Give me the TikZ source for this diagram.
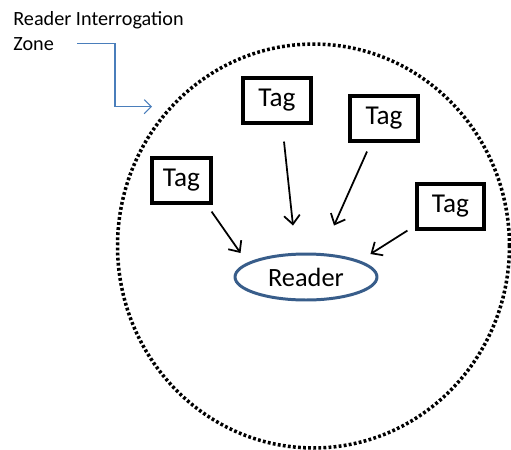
\documentclass[tikz,border=0pt]{standalone}
\usepackage{fontspec}
\setmainfont{Carlito}
\usetikzlibrary{arrows.meta, shapes.geometric, calc}

\definecolor{readerblue}{RGB}{56,93,138}
\definecolor{leadblue}{RGB}{74,126,187}

\begin{document}
\begin{tikzpicture}[x=0.02cm, y=-0.02cm,
    tagbox/.style={draw, line width=1.8pt, minimum height=0.9cm,
                   minimum width=1.36cm, inner sep=0pt,
                   font=\fontsize{15.5}{18}\selectfont},
    reader/.style={ellipse, draw=readerblue, line width=1.7pt,
                   minimum width=2.84cm, minimum height=0.92cm,
                   inner sep=0pt, font=\fontsize{15}{17}\selectfont},
    zone/.style={ellipse, draw, line width=2pt, dash pattern=on 1.6pt off 1.3pt,
                 minimum width=7.84cm, minimum height=8.08cm, inner sep=0pt},
    flow/.style={-{Straight Barb[length=5pt, width=9pt]}, line width=1pt},
    lead/.style={-{Straight Barb[length=4pt, width=8pt]}, draw=leadblue, line width=0.6pt},
    note/.style={font=\fontsize{11.5}{14.2}\selectfont, align=left, inner sep=0pt},
]
    \useasboundingbox (0,0) rectangle (511,450);

    % interrogation zone and reader
    \node[zone] (range) at (313.5,246) {};
    \node[reader] (rdr) at (306,277) {Reader};

    % tags around the reader
    \node[tagbox, minimum width=1.18cm] (tagA) at (181.5,180.5) {Tag};
    \node[tagbox] (tagB) at (277,100.5) {Tag};
    \node[tagbox] (tagC) at (384,118.5) {Tag};
    \node[tagbox, minimum width=1.34cm] (tagD) at (450.5,206.5) {Tag};

    \draw[flow] ($(tagA.south east)+(-1,7)$) -- ($(rdr.west)+(7,-24)$);
    \draw[flow] ($(tagB.south)+(7,17)$) -- ($(rdr.north)+(-13,-27)$);
    \draw[flow] ($(tagC.south)+(-17,9)$) -- ($(rdr.north)+(28,-27)$);
    \draw[flow] ($(tagD.south west)+(-8,0)$) -- ($(rdr.east)+(-8,-23)$);

    % caption with its pointer
    \node[note, anchor=north west] (caption) at (13,11.5) {Reader Interrogation\\Zone};
    \coordinate (leadstart) at (77,43.3);
    \coordinate (leadend) at (152,106.7);
    \draw[lead] (leadstart) -| (115,106.7) -- (leadend);
\end{tikzpicture}
\end{document}
